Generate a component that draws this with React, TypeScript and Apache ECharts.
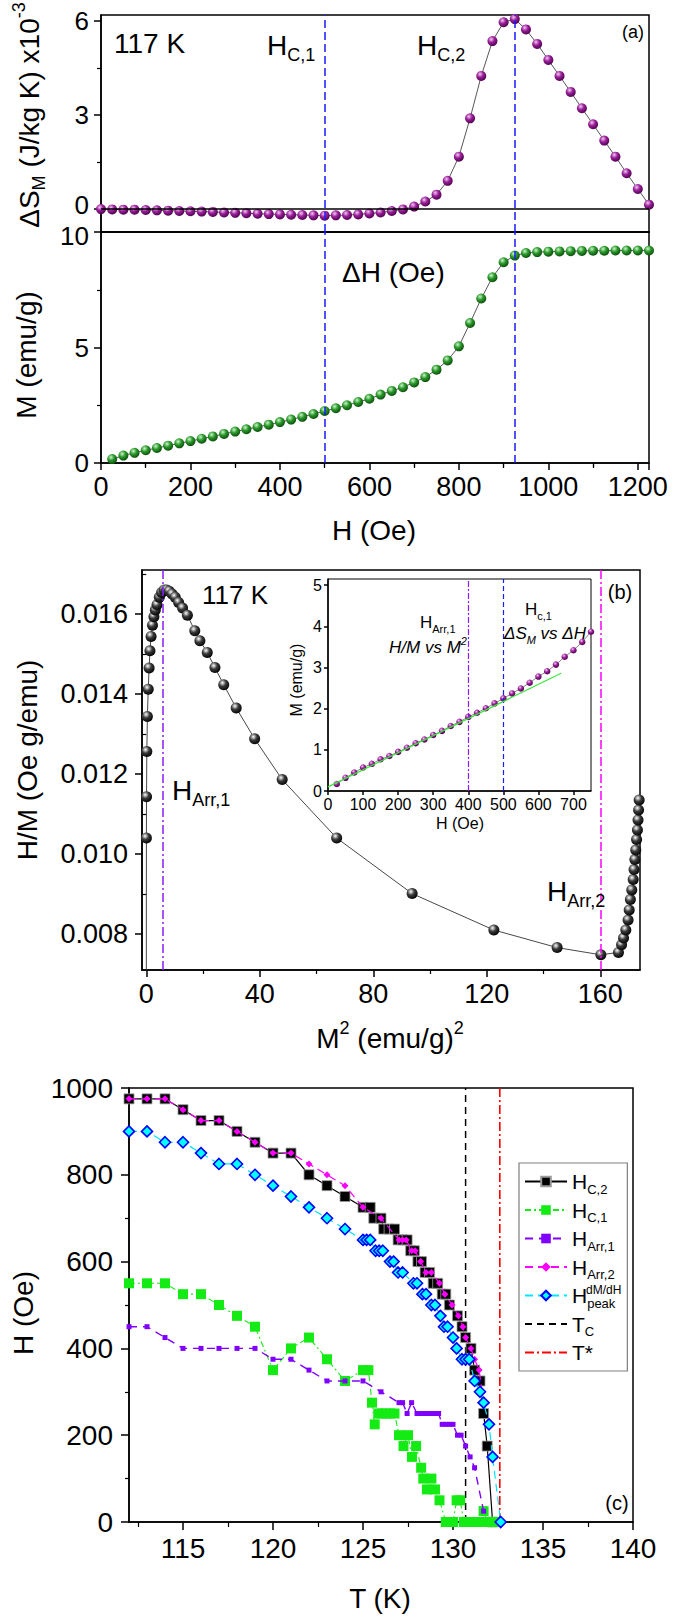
import React, { useEffect, useRef } from 'react';
import * as echarts from 'echarts';

const FONT = 'Liberation Sans, Arial, sans-serif';

// ---------- Panel (a) ----------
const H_DS = [0,25,50,75,100,125,150,175,200,225,250,275,300,325,350,375,400,425,450,475,500,525,550,575,600,625,650,675,700,725,750,775,800,825,850,875,900,925,950,975,1000,1025,1050,1075,1100,1125,1150,1175,1200,1225];
const DS = [0.00,-0.01,-0.02,-0.02,-0.03,-0.04,-0.05,-0.06,-0.07,-0.08,-0.09,-0.11,-0.12,-0.13,-0.15,-0.16,-0.17,-0.18,-0.19,-0.20,-0.21,-0.20,-0.19,-0.17,-0.14,-0.11,-0.06,-0.01,0.08,0.24,0.46,0.90,1.67,2.89,4.24,5.35,5.95,6.05,5.72,5.26,4.75,4.24,3.73,3.21,2.70,2.18,1.67,1.14,0.64,0.14];
const H_M = [25,50,75,100,125,150,175,200,225,250,275,300,325,350,375,400,425,450,475,500,525,550,575,600,625,650,675,700,725,750,775,800,825,850,875,900,925,950,975,1000,1025,1050,1075,1100,1125,1150,1175,1200,1225];
const M_A = [0.17,0.32,0.44,0.55,0.65,0.75,0.85,0.95,1.05,1.15,1.26,1.36,1.46,1.56,1.66,1.77,1.88,2.00,2.12,2.25,2.37,2.50,2.64,2.78,2.96,3.12,3.28,3.49,3.72,4.04,4.44,5.05,6.06,7.12,8.04,8.69,8.98,9.09,9.13,9.15,9.16,9.17,9.18,9.19,9.19,9.20,9.20,9.20,9.20];
const A_MARKS = [500, 925];
const A_TOP_Y_TICKS = [0, 3, 6];
const A_TOP_Y_MINOR = [1.5, 4.5];
const A_TOP_X_MINOR = [100, 300, 500, 700, 900, 1100];

// ---------- Panel (b) ----------
const M2 = [0.02,0.05,0.1,0.2,0.4,0.7,1.0,1.3,1.7,2.2,2.7,3.2,3.8,4.6,5.4,6.3,7.2,8.1,9.1,10.2,11.4,12.8,14.5,17.1,18.9,21.5,24.2,27.3,31.7,38.2,47.9,67.1,93.7,122.5,144.8,160.2,166.4,167.5,168.2,169.0,169.8,170.2,170.6,171.1,171.6,171.9,172.2,172.5,172.8,173.1,173.3,173.5,173.7];
const HM = [0.0062,0.0104,0.01143,0.01256,0.01344,0.01412,0.01465,0.01508,0.01544,0.01572,0.01593,0.0161,0.01623,0.01642,0.01654,0.0166,0.0166,0.01657,0.0165,0.01642,0.01629,0.01615,0.01597,0.01558,0.01533,0.01504,0.01466,0.01423,0.01365,0.01288,0.01186,0.0104,0.00901,0.0081,0.00766,0.00748,0.00754,0.00773,0.0079,0.0081,0.00835,0.0086,0.00886,0.0091,0.00936,0.00961,0.00986,0.0101,0.01036,0.0106,0.01085,0.0111,0.01135];
const B_HARR1 = 5.7;
const B_HARR2 = 160.2;
const B_X_TICKS = [0, 40, 80, 120, 160];
const B_X_MINOR = [20, 60, 100, 140];
const B_Y_TICKS = [0.008, 0.010, 0.012, 0.014, 0.016];
const B_Y_MINOR = [0.009, 0.011, 0.013, 0.015, 0.017];
const INSET_H = [25,50,75,100,125,150,175,200,225,250,275,300,325,350,375,400,425,450,475,500,525,550,575,600,625,650,675,700,725,750];
const INSET_M = [0.17,0.32,0.45,0.57,0.66,0.77,0.85,0.95,1.05,1.16,1.25,1.36,1.46,1.58,1.68,1.80,1.90,2.01,2.13,2.25,2.37,2.49,2.63,2.78,2.91,3.07,3.26,3.42,3.62,3.87];
const FIT_H = [0, 665];
const FIT_M = [0.10, 2.86];
const INSET_HARR1 = 400;
const INSET_HC1 = 500;

// ---------- Panel (c) ----------
const T_HC2 = [112,113,114,115,116,117,118,119,120,121,122,123,124,125.0,125.4,125.6,126.0,126.15,126.45,126.75,126.95,127.2,127.45,127.65,127.85,128.05,128.25,128.45,128.7,128.9,129.15,129.4,129.6,129.8,130.25,130.5,130.7,131.0,131.2,131.5,131.7,131.9,132.2];
const H_HC2 = [975,975,975,950,925,925,900,875,850,850,800,775,750,725,725,700,700,675,675,675,650,650,650,625,625,600,600,575,575,550,550,525,525,500,475,450,425,400,350,325,250,175,0];
const T_HC1 = [112,113,114,115,116,117,118,119,120,121,122,123,124,125.0,125.3,125.5,125.65,125.85,126.05,126.3,126.5,126.75,127.0,127.25,127.5,127.72,127.95,128.23,128.35,128.55,128.8,129.0,129.25,129.6,129.8,130.0,130.2,130.4,130.6,130.8,131.0,131.2,131.4,131.7,131.9,132.1,132.3];
const H_HC1 = [550,550,550,525,525,500,475,450,350,400,425,375,325,350,350,275,225,250,250,250,250,250,200,175,200,150,175,125,100,75,100,75,50,0,0,0,50,50,0,0,0,0,0,25,0,0,0];
const T_HARR1 = [112,113,114,115,116,117,118,119,120,121,122,123,124,125,126,127.0,127.2,127.45,127.7,128.0,128.2,128.4,128.6,128.8,129.0,129.2,129.4,129.6,129.8,130.0,130.25,130.45,130.7,130.95,131.2,131.7];
const H_HARR1 = [450,450,425,400,400,400,400,400,375,375,350,325,325,325,300,275,275,250,275,250,250,250,250,250,250,250,225,225,225,225,200,200,175,150,125,25];
const T_HARR2 = [112,113,114,115,116,117,118,119,120,121,122,123,124,125,126,127.0,127.2,127.4,127.7,127.9,128.2,128.5,128.8,129.25,129.55,129.95,130.3,130.55,130.7,131.0,131.2,131.45,131.7];
const H_HARR2 = [975,975,975,950,925,925,900,875,850,850,825,800,775,725,700,650,650,650,625,625,600,575,575,550,525,500,475,450,425,400,375,350,275];
const T_PEAK = [112,113,114,115,116,117,118,119,120,121,122,123,124,125.0,125.2,125.4,125.7,125.9,126.1,126.5,126.7,126.95,127.2,127.8,128.0,128.3,128.5,128.8,129.0,129.3,129.5,129.7,130.0,130.2,130.5,130.7,130.9,131.2,131.5,131.7,132.0,132.2,132.65];
const H_PEAK = [900,900,875,875,850,825,825,800,775,750,725,700,675,650,650,650,625,625,625,600,600,575,575,550,550,525,525,500,500,475,450,450,425,400,375,375,375,325,300,275,225,150,0];
const T_C = 130.7;
const T_STAR = 132.6;
const C_X_TICKS = [115, 120, 125, 130, 135, 140];
const C_X_MINOR = [112.5, 117.5, 122.5, 127.5, 132.5, 137.5];

const zip = (xs: number[], ys: number[]) => xs.map((x, i) => [x, ys[i]]);

const BLACK = '#000';
const axisLineStyle = { color: BLACK, width: 1.5 };

function sphere(hi: string, mid: string, lo: string) {
  return {
    type: 'radial', x: 0.38, y: 0.32, r: 0.72,
    colorStops: [
      { offset: 0, color: hi },
      { offset: 0.45, color: mid },
      { offset: 1, color: lo },
    ],
  };
}

function mainAxis(gridIndex: number, min: number, max: number, pos: string, o: any) {
  const ax: any = {
    type: 'value', gridIndex, min, max, position: pos, offset: 0,
    axisLine: { show: true, onZero: false, lineStyle: axisLineStyle },
    axisTick: { show: true, inside: false, length: o.tickLen ?? 7, lineStyle: { color: BLACK, width: 1.5 } },
    axisLabel: {
      show: true, color: BLACK, fontSize: o.fontSize ?? 27, fontFamily: FONT, margin: o.margin ?? 10,
      formatter: o.fmt ?? ((v: number) => String(v)),
    },
    splitLine: { show: false },
  };
  if (o.rich) ax.axisLabel.rich = o.rich;
  if (o.ticks) {
    ax.axisTick.customValues = o.ticks;
    ax.axisLabel.customValues = o.ticks;
  }
  if (o.interval) ax.interval = o.interval;
  if (o.minorSplit) {
    ax.minorTick = { show: true, splitNumber: o.minorSplit, length: 4, lineStyle: { color: BLACK, width: 1.2 } };
  }
  if (o.hideMax) ax.axisLabel.showMaxLabel = false;
  if (o.noLabel) ax.axisLabel.show = false;
  return ax;
}

function minorAxis(gridIndex: number, min: number, max: number, pos: string, values: number[], inside = false, len = 4) {
  return {
    type: 'value', gridIndex, min, max, position: pos, offset: 0,
    axisLine: { show: false },
    axisTick: { show: true, inside, length: len, customValues: values, lineStyle: { color: BLACK, width: 1.2 } },
    axisLabel: { show: false },
    splitLine: { show: false },
  };
}

const R = (size: number, lh: number, extra: any = {}) => ({ fontSize: size, lineHeight: lh, fontFamily: FONT, fill: BLACK, ...extra });

function richText(x: number, y: number, text: string, rich: any, align = 'left', rotation = 0) {
  return {
    type: 'text', x, y, rotation, z: 100,
    style: { text, rich, align, verticalAlign: 'middle', fontFamily: FONT, fill: BLACK },
  };
}

function plainText(x: number, y: number, text: string, size: number, align = 'left', rotation = 0, extra: any = {}) {
  return {
    type: 'text', x, y, rotation, z: 100,
    style: { text, fontSize: size, fontFamily: FONT, fill: BLACK, align, verticalAlign: 'middle', ...extra },
  };
}

const bigRich = {
  m: R(28, 38),
  s: R(18, 16, { verticalAlign: 'bottom' }),
  p: R(18, 16, { verticalAlign: 'top' }),
};
const smallRich = {
  m: R(17, 24),
  s: R(11, 10, { verticalAlign: 'bottom' }),
  i: R(17, 24, { fontStyle: 'italic' }),
  is: R(11, 10, { verticalAlign: 'bottom', fontStyle: 'italic' }),
  ip: R(11, 10, { verticalAlign: 'top', fontStyle: 'italic' }),
};

const LEGEND_LABELS: Record<string, string> = {
  'H_C,2': '{m|H}{s|C,2}',
  'H_C,1': '{m|H}{s|C,1}',
  'H_Arr,1': '{m|H}{s|Arr,1}',
  'H_Arr,2': '{m|H}{s|Arr,2}',
  'H_peak': '{m|H}{s|peak}',
  'T_C': '{m|T}{s|C}',
  'T*': '{m|T*}',
};

function buildOption(): any {
  const blueDash = { color: '#1a1aff', type: [8, 4], width: 1.5 };
  const violetDashDot = { color: '#8a1cff', type: [9, 3, 2, 3], width: 1.5 };
  const magentaDashDot = { color: '#ff00ff', type: [9, 3, 2, 3], width: 1.5 };
  const ml = (data: any[]) => ({
    silent: true, symbol: ['none', 'none'], label: { show: false }, animation: false,
    emphasis: { disabled: true }, data,
  });

  return {
    animation: false,
    backgroundColor: '#fff',
    grid: [
      { left: 101, top: 15, width: 548, height: 217, show: true, borderColor: BLACK, borderWidth: 1.5, backgroundColor: 'transparent' },
      { left: 101, top: 232, width: 548, height: 231, show: true, borderColor: BLACK, borderWidth: 1.5, backgroundColor: 'transparent' },
      { left: 142, top: 570, width: 498, height: 400, show: true, borderColor: BLACK, borderWidth: 1.5, backgroundColor: 'transparent' },
      { left: 328, top: 579, width: 263, height: 212, show: true, borderColor: BLACK, borderWidth: 1, backgroundColor: '#fff' },
      { left: 129, top: 1088, width: 504, height: 434, show: true, borderColor: BLACK, borderWidth: 1.5, backgroundColor: 'transparent' },
    ],
    xAxis: [
      mainAxis(0, 0, 1225, 'bottom', { noLabel: true, tickLen: 0 }),
      mainAxis(1, 0, 1225, 'bottom', { interval: 200, minorSplit: 2, hideMax: true, margin: 10 }),
      minorAxis(1, 0, 1225, 'top', A_TOP_X_MINOR, true, 5),
      mainAxis(2, -1.5, 174, 'bottom', { ticks: B_X_TICKS, margin: 10 }),
      minorAxis(2, -1.5, 174, 'bottom', B_X_MINOR),
      mainAxis(3, 0, 750, 'bottom', { interval: 100, hideMax: true, fontSize: 16, margin: 5, tickLen: 4 }),
      mainAxis(4, 112, 140, 'bottom', { ticks: C_X_TICKS, margin: 12, fontSize: 28, tickLen: 8 }),
      minorAxis(4, 112, 140, 'bottom', C_X_MINOR, false, 5),
    ],
    yAxis: [
      mainAxis(0, -0.73, 6.18, 'left', {
        ticks: A_TOP_Y_TICKS, margin: 12, fontSize: 26,
        fmt: (v: number) => (v === 0 ? '{up|0}' : String(v)),
        rich: { up: { fontSize: 26, fontFamily: FONT, color: BLACK, padding: [0, 0, 8, 0] } },
      }),
      minorAxis(0, -0.73, 6.18, 'left', A_TOP_Y_MINOR),
      mainAxis(1, 0, 10, 'left', {
        interval: 5, minorSplit: 2, margin: 12, fontSize: 26,
        fmt: (v: number) => (v === 10 ? '{dn|10}' : String(v)),
        rich: { dn: { fontSize: 26, fontFamily: FONT, color: BLACK, padding: [8, 0, 0, 0] } },
      }),
      mainAxis(2, 0.0071, 0.0171, 'left', { ticks: B_Y_TICKS, margin: 14, fmt: (v: number) => v.toFixed(3) }),
      minorAxis(2, 0.0071, 0.0171, 'left', B_Y_MINOR),
      mainAxis(3, 0, 5.15, 'left', { interval: 1, hideMax: true, fontSize: 16, margin: 6, tickLen: 4 }),
      mainAxis(4, 0, 1000, 'left', { interval: 200, minorSplit: 2, margin: 16, fontSize: 28, tickLen: 8 }),
    ],
    legend: {
      show: true, orient: 'vertical', left: 519, top: 1163,
      itemWidth: 42, itemHeight: 12, itemGap: 4,
      padding: [8, 12, 8, 5],
      borderColor: '#7f7f7f', borderWidth: 1.2, backgroundColor: '#fff',
      selectedMode: false,
      data: ['H_C,2', 'H_C,1', 'H_Arr,1', 'H_Arr,2', 'H_peak', 'T_C', 'T*'],
      formatter: (n: string) => LEGEND_LABELS[n] || n,
      textStyle: {
        color: BLACK, fontFamily: FONT, fontSize: 21,
        rich: {
          m: { fontSize: 21, lineHeight: 28, fontFamily: FONT, color: BLACK },
          s: { fontSize: 13, lineHeight: 13, verticalAlign: 'bottom', fontFamily: FONT, color: BLACK },
        },
      },
    },
    series: [
      // (a) top
      {
        type: 'line', name: 'dS', xAxisIndex: 0, yAxisIndex: 0, data: zip(H_DS, DS),
        symbol: 'circle', symbolSize: 10, showAllSymbol: true,
        itemStyle: { color: sphere('#f4c8f4', '#9a1f9a', '#4a004a') },
        lineStyle: { color: '#444', width: 0.9 },
        markLine: ml([
          { yAxis: 0, lineStyle: { color: BLACK, type: 'solid', width: 1.5 } },
          { xAxis: A_MARKS[0], lineStyle: blueDash },
          { xAxis: A_MARKS[1], lineStyle: blueDash },
        ]),
        z: 3,
      },
      // (a) bottom
      {
        type: 'line', name: 'M', xAxisIndex: 1, yAxisIndex: 2, data: zip(H_M, M_A),
        symbol: 'circle', symbolSize: 10, showAllSymbol: true,
        itemStyle: { color: sphere('#cbf5cb', '#2a992a', '#0a4a0a') },
        lineStyle: { color: '#444', width: 0.9 },
        markLine: ml([
          { xAxis: A_MARKS[0], lineStyle: blueDash },
          { xAxis: A_MARKS[1], lineStyle: blueDash },
        ]),
        z: 3,
      },
      // (b) main
      {
        type: 'line', name: 'HM', xAxisIndex: 3, yAxisIndex: 3, data: zip(M2, HM),
        symbol: 'circle', symbolSize: 11, showAllSymbol: true,
        itemStyle: { color: sphere('#ffffff', '#3a3a3a', '#000000') },
        lineStyle: { color: '#333', width: 0.9 },
        markLine: ml([
          { xAxis: B_HARR1, lineStyle: violetDashDot },
          { xAxis: B_HARR2, lineStyle: magentaDashDot },
        ]),
        z: 3,
      },
      // (b) inset
      {
        type: 'line', name: 'inset', xAxisIndex: 5, yAxisIndex: 5, data: zip(INSET_H, INSET_M),
        symbol: 'circle', symbolSize: 6.5, showAllSymbol: true,
        itemStyle: { color: sphere('#f4c8f4', '#9a1f9a', '#4a004a') },
        lineStyle: { color: '#555', width: 0.7 },
        markLine: ml([
          { xAxis: INSET_HARR1, lineStyle: { color: '#8a1cff', type: [6, 2, 2, 2], width: 1.2 } },
          { xAxis: INSET_HC1, lineStyle: { color: '#1a1aff', type: [5, 3], width: 1.2 } },
        ]),
        z: 4,
      },
      {
        type: 'line', name: 'fit', xAxisIndex: 5, yAxisIndex: 5, data: zip(FIT_H, FIT_M),
        symbol: 'none', lineStyle: { color: '#39e639', width: 1.2 }, z: 5,
      },
      // (c)
      {
        type: 'line', name: 'H_C,2', xAxisIndex: 6, yAxisIndex: 6, data: zip(T_HC2, H_HC2),
        symbol: 'rect', symbolSize: 10, showAllSymbol: true,
        itemStyle: { color: '#000', borderColor: '#9a9a9a', borderWidth: 0.8 },
        lineStyle: { color: '#000', width: 1.2 },
        z: 3,
      },
      {
        type: 'line', name: 'H_C,1', xAxisIndex: 6, yAxisIndex: 6, data: zip(T_HC1, H_HC1),
        symbol: 'rect', symbolSize: 10, showAllSymbol: true,
        itemStyle: { color: '#14eb14' },
        lineStyle: { color: '#14eb14', width: 1.1, type: [6, 3, 2, 3] },
        z: 3,
      },
      {
        type: 'line', name: 'H_Arr,1', xAxisIndex: 6, yAxisIndex: 6, data: zip(T_HARR1, H_HARR1),
        symbol: 'rect', symbolSize: 5, showAllSymbol: true,
        itemStyle: { color: '#8000ff' },
        lineStyle: { color: '#8000ff', width: 1.4, type: [8, 6] },
        z: 4,
      },
      {
        type: 'line', name: 'H_Arr,2', xAxisIndex: 6, yAxisIndex: 6, data: zip(T_HARR2, H_HARR2),
        symbol: 'diamond', symbolSize: 7, showAllSymbol: true,
        itemStyle: { color: '#ff00ff' },
        lineStyle: { color: '#ff00ff', width: 1.2, type: [8, 5] },
        z: 5,
      },
      {
        type: 'line', name: 'H_peak', xAxisIndex: 6, yAxisIndex: 6, data: zip(T_PEAK, H_PEAK),
        symbol: 'diamond', symbolSize: 11, showAllSymbol: true,
        itemStyle: { color: '#00ffff', borderColor: '#0000ff', borderWidth: 1.6 },
        lineStyle: { color: '#00e5ff', width: 1.2, type: [8, 5] },
        z: 6,
      },
      {
        type: 'line', name: 'T_C', xAxisIndex: 6, yAxisIndex: 6, data: [[T_C, 0], [T_C, 1000]],
        symbol: 'none', itemStyle: { color: 'rgba(0,0,0,0)', borderWidth: 0 },
        lineStyle: { color: '#000', width: 1.5, type: [7, 5] }, z: 2,
      },
      {
        type: 'line', name: 'T*', xAxisIndex: 6, yAxisIndex: 6, data: [[T_STAR, 0], [T_STAR, 1000]],
        symbol: 'none', itemStyle: { color: 'rgba(0,0,0,0)', borderWidth: 0 },
        lineStyle: { color: '#ff0000', width: 1.6, type: [9, 3, 2, 3] }, z: 2,
      },
    ],
    graphic: [
      // panel (a)
      plainText(114, 43, '117 K', 28),
      richText(267, 45, '{m|H}{s|C,1}', bigRich),
      richText(417, 45, '{m|H}{s|C,2}', bigRich),
      plainText(633, 32, '(a)', 18, 'center'),
      plainText(342, 272, 'ΔH (Oe)', 28),
      plainText(374, 530, 'H (Oe)', 28, 'center'),
      richText(29, 115, '{m|ΔS}{s|M}{m| (J/kg K) x10}{p|-3}', bigRich, 'center', Math.PI / 2),
      plainText(26, 355, 'M (emu/g)', 28, 'center', Math.PI / 2),
      // panel (b)
      plainText(202, 595, '117 K', 26),
      plainText(620, 592, '(b)', 20, 'center'),
      richText(172, 790, '{m|H}{s|Arr,1}', bigRich),
      richText(547, 891, '{m|H}{s|Arr,2}', bigRich),
      richText(420, 622, '{m|H}{s|Arr,1}', smallRich),
      richText(428, 647, '{i|H/M vs M}{ip|2}', smallRich, 'center'),
      richText(525, 609, '{m|H}{s|c,1}', smallRich),
      richText(545, 633, '{i|ΔS}{is|M}{i| vs ΔH}', smallRich, 'center'),
      plainText(296, 680, 'M (emu/g)', 16, 'center', Math.PI / 2),
      plainText(460, 823, 'H (Oe)', 16, 'center'),
      richText(390, 1038, '{m|M}{p|2}{m| (emu/g)}{p|2}', bigRich, 'center'),
      plainText(27, 760, 'H/M (Oe g/emu)', 28, 'center', Math.PI / 2),
      // panel (c)
      plainText(23, 1313, 'H (Oe)', 28, 'center', Math.PI / 2),
      plainText(380, 1598, 'T (K)', 28, 'center'),
      plainText(617, 1503, '(c)', 20, 'center'),
      plainText(586, 1290, 'dM/dH', 12, 'left'),
    ],
  };
}

export default function App() {
  const ref = useRef<HTMLDivElement>(null);
  useEffect(() => {
    document.body.style.margin = '0';
    const chart = echarts.init(ref.current!, null, { renderer: 'svg' });
    chart.setOption(buildOption());
    return () => chart.dispose();
  }, []);
  return <div ref={ref} style={{ width: 675, height: 1620, background: '#fff' }} />;
}
